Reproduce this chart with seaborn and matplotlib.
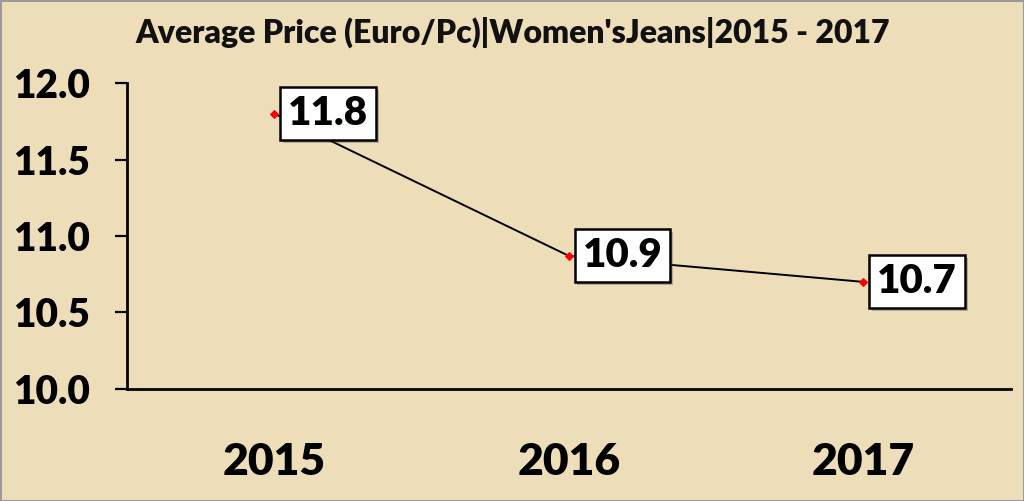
import matplotlib
matplotlib.use("Agg")
import matplotlib.pyplot as plt
import matplotlib.patheffects as pe
import seaborn as sns
import pandas as pd

years = ["2015", "2016", "2017"]
prices = [11.8, 10.87, 10.7]
title = "Average Price (Euro/Pc)|Women'sJeans|2015 - 2017"
yticks = [10.0, 10.5, 11.0, 11.5, 12.0]

sns.set_theme(style="white")
plt.rcParams['font.family'] = ['Lato', 'DejaVu Sans']

bg = "#EEDDB9"
fig = plt.figure(figsize=(10.24, 5.01), dpi=100, facecolor=bg)
fig.patch.set_edgecolor("#9A9A9A")
fig.patch.set_linewidth(2)
ax = fig.add_axes([0.124, 0.2236, 0.863, 0.6107])
ax.set_facecolor(bg)

df = pd.DataFrame({"year": years, "price": prices})
sns.lineplot(data=df, x="year", y="price", ax=ax, color="black", linewidth=1.4,
             marker="D", markersize=4, markerfacecolor="red", markeredgecolor="red",
             sort=False)

for i, v in enumerate(prices):
    t = ax.annotate(f"{v:.1f}", xy=(i, v), xytext=(10, 0), textcoords="offset points",
                    ha="left", va="center", fontsize=29, fontweight="heavy", color="black",
                    bbox=dict(boxstyle="square,pad=0.2", facecolor="white",
                              edgecolor="black", linewidth=1.8))
    t.get_bbox_patch().set_path_effects([pe.SimplePatchShadow(offset=(2, -2), alpha=0.35),
                                         pe.Normal()])

ax.set_xlim(-0.5, 2.5)
ax.set_ylim(10.0, 12.0)
ax.set_yticks(yticks)
ax.set_yticklabels([f"{t:.1f}" for t in yticks], fontsize=28, fontweight="heavy",
                   color="black")
ax.set_xticks(range(len(years)))
ax.set_xticklabels(years, fontsize=32, fontweight="heavy", color="black")
ax.set_xlabel("")
ax.set_ylabel("")
ax.tick_params(axis="y", left=True, direction="out", length=9, width=1.6,
               color="black", pad=18)
ax.tick_params(axis="x", bottom=False, length=0, pad=38)
for s in ["top", "right"]:
    ax.spines[s].set_visible(False)
for s in ["left", "bottom"]:
    ax.spines[s].set_color("black")
    ax.spines[s].set_linewidth(2)
ax.grid(False)

fig.text(0.132, 0.935, title, fontsize=23, fontweight="heavy", color="#111111",
         ha="left", va="center")

fig.savefig("out.png", dpi=100, facecolor=bg, edgecolor=fig.patch.get_edgecolor())
